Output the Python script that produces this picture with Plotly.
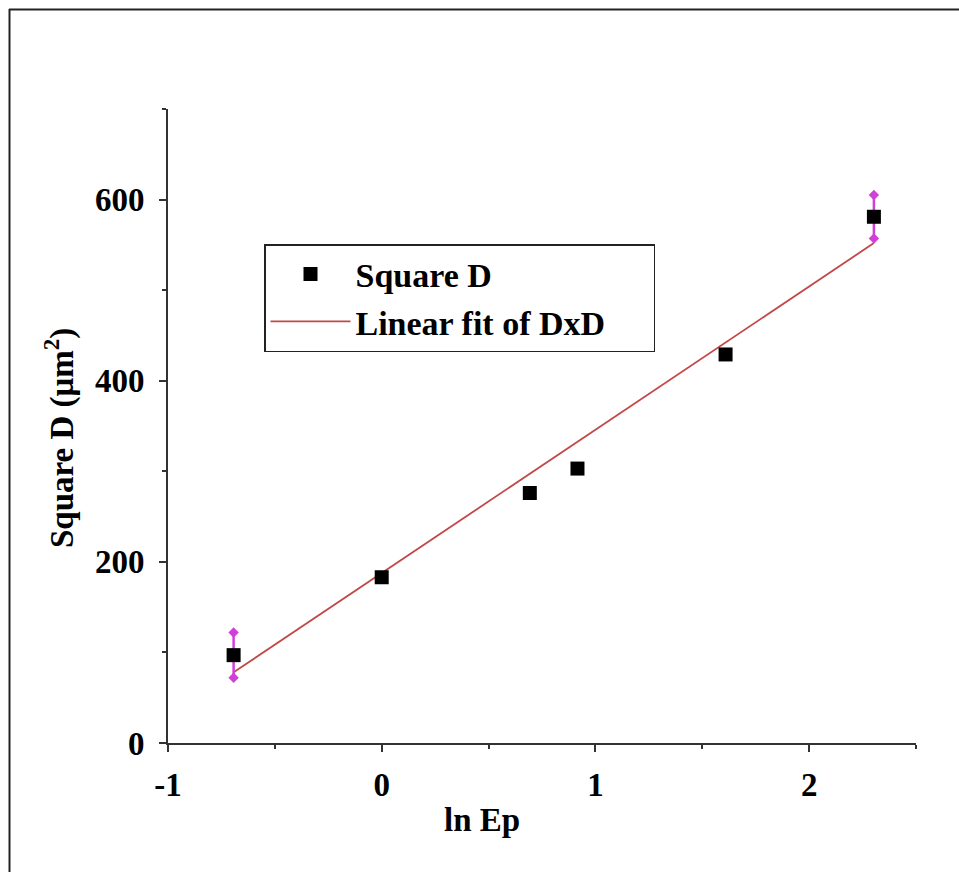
import plotly.graph_objects as go

# ---- data ----
ln_ep = [-0.693, 0.0, 0.693, 0.916, 1.609, 2.303]
square_d = [97, 183, 276, 303, 429, 581]
err_d = [25, 0, 0, 0, 0, 24]
fit_x = [-0.693, 2.303]
fit_y = [78, 552]
x_ticks = [-1, 0, 1, 2]
y_ticks = [0, 200, 400, 600]

W, Hh = 959, 872
L, R, T, B = 168, 916, 109, 743
PW, PH = R - L, B - T

def px(xp):
    return (xp - L) / PW

def py(yp):
    return (B - yp) / PH

FONT = "Liberation Serif"
PAD = "&nbsp;" * 5
fig = go.Figure()

# fit line
fig.add_trace(go.Scatter(
    x=fit_x, y=fit_y, mode="lines", name="<b>Linear fit of DxD</b>" + PAD,
    line=dict(color="#C24848", width=1.8)))

# error bar caps (diamonds) for points with error
ex, ey = [], []
for xv, yv, ev in zip(ln_ep, square_d, err_d):
    if ev > 0:
        ex += [xv, xv]
        ey += [yv + ev, yv - ev]
fig.add_trace(go.Scatter(
    x=ex, y=ey, mode="markers", showlegend=False,
    marker=dict(symbol="diamond", size=8, color="#D040D8")))

# data points with error bars
fig.add_trace(go.Scatter(
    x=ln_ep, y=square_d, mode="markers", name="<b>Square D</b>",
    marker=dict(symbol="square", size=14, color="black"),
    error_y=dict(type="data", array=err_d, visible=True,
                 color="#D040D8", thickness=2.5, width=0)))

axis_common = dict(
    showgrid=False, zeroline=False, showline=True, linecolor="#333333",
    linewidth=2, ticks="outside", tickcolor="#333333", tickwidth=2, ticklen=7,
    tickfont=dict(family=FONT, size=33, color="black", weight="bold"),
)

fig.update_xaxes(
    range=[-1, 2.5], tickvals=x_ticks, ticktext=[str(v) for v in x_ticks],
    minor=dict(dtick=0.5, tick0=-1, ticks="outside", ticklen=4,
               tickwidth=2, tickcolor="#333333"),
    ticklabelstandoff=4,
    **axis_common)
fig.update_yaxes(
    range=[0, 700], tickvals=y_ticks, ticktext=[str(v) for v in y_ticks],
    minor=dict(dtick=100, tick0=0, ticks="outside", ticklen=4,
               tickwidth=2, tickcolor="#333333"),
    ticklabelstandoff=8,
    **axis_common)

fig.add_annotation(
    text="<b>ln Ep</b>", xref="paper", yref="paper",
    x=px(482), y=py(820), xanchor="center", yanchor="middle", showarrow=False,
    font=dict(family=FONT, size=33, color="black"))
fig.add_annotation(
    text="<b>Square D (μm<sup>2</sup>)</b>", xref="paper", yref="paper",
    x=px(59), y=py(438), xanchor="center", yanchor="middle",
    showarrow=False, textangle=-90,
    font=dict(family=FONT, size=33, color="black"))

# outer frame (top and left edges visible)
fig.add_shape(type="line", xref="paper", yref="paper",
              x0=px(9), x1=px(970), y0=py(9.5), y1=py(9.5),
              line=dict(color="#222222", width=2))
fig.add_shape(type="line", xref="paper", yref="paper",
              x0=px(9.5), x1=px(9.5), y0=py(9), y1=py(880),
              line=dict(color="#222222", width=2))

fig.update_layout(
    width=W, height=Hh,
    margin=dict(l=L, r=W - R, t=T, b=Hh - B),
    paper_bgcolor="white", plot_bgcolor="white",
    showlegend=True,
    legend=dict(
        x=px(264), y=py(244), xanchor="left", yanchor="top",
        bgcolor="white", bordercolor="#222222", borderwidth=1.5,
        font=dict(family=FONT, size=34, color="black"),
        traceorder="reversed", itemwidth=80, tracegroupgap=0,
    ),
)

fig.write_html("out.html")
